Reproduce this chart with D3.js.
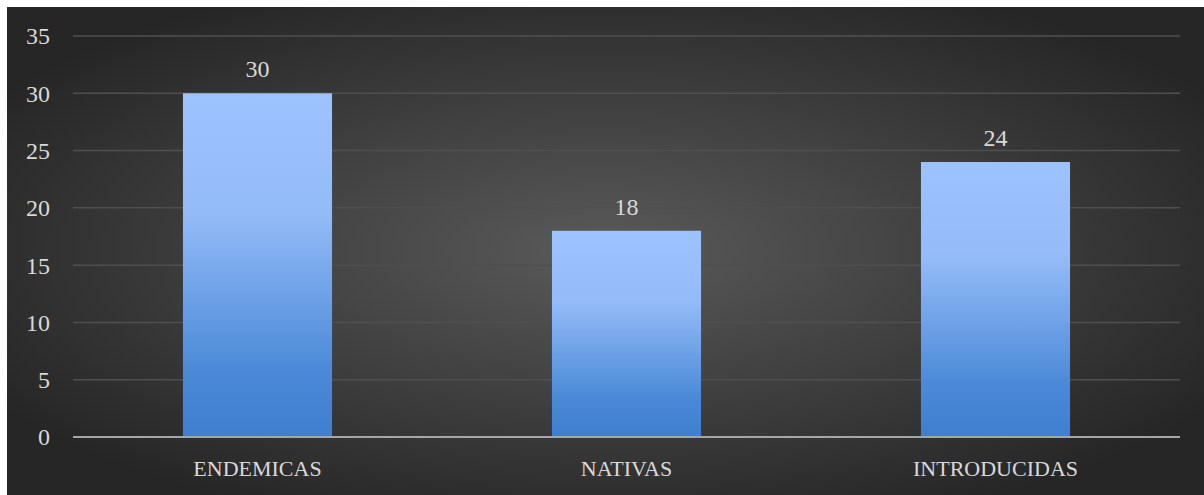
<!DOCTYPE html>
<html>
<head>
<meta charset="utf-8">
<script src="https://cdn.jsdelivr.net/npm/d3@7/dist/d3.min.js"></script>
<style>
  html, body { margin: 0; padding: 0; background: #ffffff; }
  svg { display: block; }
</style>
</head>
<body>
<svg id="chart" width="1204" height="495"></svg>
<script>
// Species counts by origin
const categories = ["ENDEMICAS", "NATIVAS", "INTRODUCIDAS"];
const values = [30, 18, 24];
const yTicks = [0, 5, 10, 15, 20, 25, 30, 35];

const W = 1204, H = 495;
const margin = { top: 36, right: 24, bottom: 58, left: 73 };
const svg = d3.select("#chart");

const defs = svg.append("defs");
const bg = defs.append("radialGradient").attr("id", "bgGrad")
  .attr("cx", "50%").attr("cy", "50%").attr("r", "60%");
bg.append("stop").attr("offset", "0%").attr("stop-color", "#5a5a5a");
bg.append("stop").attr("offset", "100%").attr("stop-color", "#262626");

const barGrad = defs.append("linearGradient").attr("id", "barGrad")
  .attr("x1", 0).attr("y1", 0).attr("x2", 0).attr("y2", 1);
barGrad.append("stop").attr("offset", "0%").attr("stop-color", "#9dc3ff");
barGrad.append("stop").attr("offset", "35%").attr("stop-color", "#93bbf7");
barGrad.append("stop").attr("offset", "80%").attr("stop-color", "#4c8ad8");
barGrad.append("stop").attr("offset", "100%").attr("stop-color", "#3f7fcf");

// Chart area background
svg.append("rect").attr("x", 7).attr("y", 7).attr("width", W - 7).attr("height", H - 7)
  .attr("fill", "url(#bgGrad)");

const x = d3.scaleBand().domain(categories)
  .range([margin.left, W - margin.right])
  .paddingInner(0.596).paddingOuter(0.298);
const y = d3.scaleLinear().domain([0, 35]).range([H - margin.bottom, margin.top]);

const font = "'Liberation Serif', 'DejaVu Serif', serif";

// Gridlines
svg.append("g").selectAll("line").data(yTicks.filter(d => d > 0)).join("line")
  .attr("x1", margin.left).attr("x2", W - margin.right)
  .attr("y1", d => y(d)).attr("y2", d => y(d))
  .attr("stroke", "#4f4f4f").attr("stroke-width", 1.5);

// Y axis labels
svg.append("g").selectAll("text").data(yTicks).join("text")
  .attr("x", 50).attr("y", d => y(d)).attr("dy", "0.35em")
  .attr("text-anchor", "end")
  .attr("fill", "#d9d9d9").attr("font-family", font).attr("font-size", 24)
  .text(d => d);

// Bars
svg.append("g").selectAll("rect").data(values).join("rect")
  .attr("x", (d, i) => x(categories[i]))
  .attr("y", d => y(d))
  .attr("width", x.bandwidth())
  .attr("height", d => y(0) - y(d))
  .attr("fill", "url(#barGrad)");

// Baseline
svg.append("line")
  .attr("x1", margin.left).attr("x2", W - margin.right)
  .attr("y1", y(0)).attr("y2", y(0))
  .attr("stroke", "#a6a6a6").attr("stroke-width", 2);

// Value labels
svg.append("g").selectAll("text").data(values).join("text")
  .attr("x", (d, i) => x(categories[i]) + x.bandwidth() / 2)
  .attr("y", d => y(d) - 16)
  .attr("text-anchor", "middle")
  .attr("fill", "#d9d9d9").attr("font-family", font).attr("font-size", 24)
  .text(d => d);

// Category labels
svg.append("g").selectAll("text").data(categories).join("text")
  .attr("x", d => x(d) + x.bandwidth() / 2)
  .attr("y", y(0) + 39)
  .attr("text-anchor", "middle")
  .attr("fill", "#d9d9d9").attr("font-family", font).attr("font-size", 22)
  .text(d => d);
</script>
</body>
</html>
